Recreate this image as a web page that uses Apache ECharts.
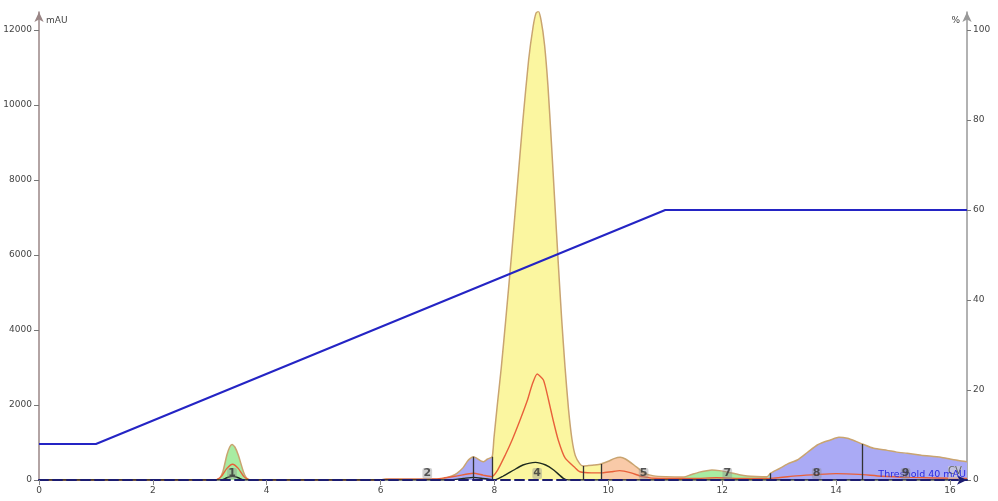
<!DOCTYPE html>
<html><head><meta charset="utf-8">
<script src="https://cdn.jsdelivr.net/npm/echarts@6.0.0/dist/echarts.min.js"></script>
<style>html,body{margin:0;padding:0;background:#fff}#c{width:998px;height:501px}</style>
</head><body><div id="c"></div>
<script>
// ---- data ----
const uvCv  = [0, 3.0, 3.12, 3.17, 3.23, 3.30, 3.35, 3.39, 3.44, 3.50, 3.59, 3.64, 3.70, 3.8,
  6.0, 6.05, 6.5, 6.95, 7.0, 7.11, 7.25, 7.34, 7.45, 7.52, 7.57, 7.63, 7.69, 7.76, 7.81, 7.88, 7.96,
  7.99, 8.05, 8.12, 8.2, 8.3, 8.4, 8.5, 8.6, 8.68, 8.73, 8.77, 8.82, 8.88, 8.94, 9.0, 9.06, 9.12, 9.18,
  9.24, 9.3, 9.36, 9.42, 9.5, 9.56, 9.65, 9.75, 9.87, 10.0, 10.1, 10.21, 10.3, 10.45, 10.56, 10.65, 10.8,
  11.0, 11.32, 11.45, 11.6, 11.73, 11.82, 11.95, 12.14, 12.3, 12.44, 12.6, 12.79, 12.85, 13.0, 13.15,
  13.32, 13.5, 13.67, 13.8, 13.9, 14.05, 14.2, 14.35, 14.46, 14.66, 14.9, 15.05, 15.25, 15.5, 15.84,
  16.0, 16.15, 16.3];
const uvMau = [0, 0, 10, 40, 222, 667, 880, 950, 880, 667, 222, 60, 10, 0,
  0, 20, 22, 20, 22, 40, 110, 178, 330, 489, 570, 620, 578, 510, 489, 560, 622,
  1100, 2000, 3000, 4300, 6000, 7800, 9600, 11200, 12100, 12450, 12500, 12250, 11600, 10500, 9000, 7400, 5800, 4300,
  3000, 1900, 1100, 650, 430, 373, 385, 400, 427, 500, 570, 604, 560, 400, 267, 170, 110,
  90, 80, 140, 210, 249, 267, 250, 196, 140, 107, 95, 89, 180, 300, 430,
  533, 740, 933, 1020, 1067, 1138, 1111, 1030, 960, 844, 790, 750, 711, 660, 604,
  560, 520, 489];

const redCv  = [0, 3.1, 3.2, 3.3, 3.4, 3.5, 3.6, 3.7, 6.0, 6.1, 6.9, 7.1, 7.35, 7.63, 7.8, 7.95, 8.05,
  8.19, 8.31, 8.45, 8.58, 8.66, 8.75, 8.86, 8.95, 9.03, 9.12, 9.24, 9.42, 9.5, 9.7, 9.9, 10.05, 10.2,
  10.4, 10.6, 10.9, 11.5, 11.9, 12.4, 12.9, 13.3, 13.7, 14.0, 14.4, 14.8, 15.3, 16.3];
const redMau = [0, 0, 90, 310, 420, 310, 90, 0, 0, 20, 25, 50, 110, 180, 130, 90, 250,
  667, 1067, 1600, 2133, 2533, 2827, 2667, 2133, 1600, 1067, 587, 320, 220, 190, 190, 220, 250,
  190, 90, 40, 40, 60, 40, 50, 110, 150, 170, 150, 100, 70, 40];

const blkCv  = [0, 3.2, 3.3, 3.4, 3.5, 3.6, 7.2, 7.45, 7.63, 7.8, 7.95, 8.0, 8.15, 8.34, 8.5, 8.72, 8.9, 9.04, 9.21, 9.3, 16.3];
const blkMau = [0, 0, 60, 100, 60, 0, 0, 40, 70, 40, 10, 0, 100, 267, 400, 471, 400, 267, 44, 0, 0];

const gradCv  = [0, 1, 11, 16.3];
const gradPct = [8, 8, 60, 60];

const fracStart = [3.0, 6.0, 6.95, 7.63, 7.96, 9.56, 9.87, 11.32, 12.79, 12.85, 14.46];
const fracEnd   = [3.8, 6.95, 7.63, 7.96, 9.56, 9.87, 11.32, 12.79, 12.85, 14.46, 16.3];
const sepCv     = [7.63, 7.96, 9.56, 9.87, 12.85, 14.46];

const peakNames = ['1', '2', '4', '5', '7', '8', '9'];
const peakCv    = [3.39, 6.82, 8.75, 10.62, 12.09, 13.66, 15.22];

const cvTicks  = [0, 2, 4, 6, 8, 10, 12, 14, 16];
const mauTicks = [0, 2000, 4000, 6000, 8000, 10000, 12000];
const pctTicks = [0, 20, 40, 60, 80, 100];

// ---- styles ----
const fracColors = ['#a8eca2', '#f9caa8', '#aaaaf5', '#aaaaf5', '#fbf6a0', '#fbf6a0', '#f9caa8', '#a8eca2', '#a6e8e4', '#aaaaf5', '#aaaaf5'];
const FONT = 'DejaVu Sans';
const SM = 0.2;

function zip(xs, ys) { return xs.map((x, i) => [x, ys[i]]); }
const uvData = zip(uvCv, uvMau);
function uvAt(x) { return uvMau[uvCv.indexOf(x)]; }
const plain = v => String(v);

const series = [];
fracStart.forEach((s, i) => {
  series.push({
    type: 'line', data: uvData.filter(p => p[0] >= s && p[0] <= fracEnd[i]),
    showSymbol: false, silent: true, z: 1, smooth: SM,
    lineStyle: { opacity: 0 }, areaStyle: { color: fracColors[i], opacity: 1 }
  });
});
series.push({ type: 'line', data: uvData, showSymbol: false, silent: true, z: 3, smooth: SM,
  lineStyle: { color: '#c9a470', width: 1.5 } });
series.push({ type: 'line', data: zip(redCv, redMau), showSymbol: false, silent: true, z: 4, smooth: SM,
  lineStyle: { color: '#e8603a', width: 1.4 } });
series.push({ type: 'line', data: zip(blkCv, blkMau), showSymbol: false, silent: true, z: 4, smooth: SM,
  lineStyle: { color: '#1e2a1e', width: 1.4 } });
series.push({ type: 'lines', coordinateSystem: 'cartesian2d', silent: true, z: 5,
  data: sepCv.map(x => ({ coords: [[x, 0], [x, uvAt(x)]] })),
  lineStyle: { color: '#333', width: 1.3, opacity: 1 } });
series.push({ type: 'line', yAxisIndex: 1, data: zip(gradCv, gradPct), showSymbol: false, silent: true, z: 6,
  lineStyle: { color: '#2424c4', width: 2 } });
series.push({ type: 'scatter', data: peakCv.map(x => [x, 0]), symbolSize: 0, silent: true, z: 10,
  label: { show: true, position: 'top', distance: 1,
    formatter: p => peakNames[p.dataIndex],
    color: '#333', fontFamily: FONT, fontSize: 11, fontWeight: 'bold',
    backgroundColor: 'rgba(140,140,140,0.5)', padding: [0, 1, 0, 1], borderRadius: 2 } });

const option = {
  animation: false,
  grid: { left: 39, right: 31, top: 12, bottom: 21, containLabel: false },
  xAxis: {
    type: 'value', min: 0, max: 16.3, z: 7,
    axisLine: { show: true, symbol: ['none', 'arrow'], symbolSize: [7, 10],
      lineStyle: { color: '#1c1c70', width: 2, type: [9, 5] } },
    axisTick: { show: true, length: 5, customValues: cvTicks, lineStyle: { color: '#888' } },
    axisLabel: { customValues: cvTicks, formatter: plain, color: '#444', fontFamily: FONT, fontSize: 9, margin: 6 },
    splitLine: { show: false },
    name: 'CV', nameLocation: 'end', nameGap: -12,
    nameTextStyle: { color: '#666', fontFamily: FONT, fontSize: 10, align: 'center', verticalAlign: 'bottom',
      padding: [0, 0, 4, 0], backgroundColor: 'rgba(210,210,210,0.6)' }
  },
  yAxis: [{
    type: 'value', min: 0, max: 12480, position: 'left',
    axisLine: { show: true, symbol: ['none', 'arrow'], symbolSize: [7, 10],
      lineStyle: { color: '#9a8686', width: 1.5 } },
    axisTick: { show: true, length: 5, customValues: mauTicks, lineStyle: { color: '#777' } },
    axisLabel: { customValues: mauTicks, formatter: plain, color: '#444', fontFamily: FONT, fontSize: 9, margin: 7 },
    splitLine: { show: false },
    name: 'mAU', nameLocation: 'end', nameGap: -4,
    nameTextStyle: { color: '#444', fontFamily: FONT, fontSize: 9, align: 'left', verticalAlign: 'top', padding: [0, 0, 0, 7] }
  }, {
    type: 'value', min: 0, max: 104, position: 'right',
    axisLine: { show: true, symbol: ['none', 'arrow'], symbolSize: [7, 10],
      lineStyle: { color: '#999', width: 1.5 } },
    axisTick: { show: true, length: 4, customValues: pctTicks, lineStyle: { color: '#777' } },
    axisLabel: { customValues: pctTicks, formatter: plain, color: '#444', fontFamily: FONT, fontSize: 9, margin: 6 },
    splitLine: { show: false },
    name: '%', nameLocation: 'end', nameGap: -4,
    nameTextStyle: { color: '#444', fontFamily: FONT, fontSize: 9, align: 'right', verticalAlign: 'top', padding: [0, 7, 0, 0] }
  }],
  graphic: [{
    type: 'text', right: 32, bottom: 21, z: 8,
    style: { text: 'Threshold 40 mAU', fill: '#2b2be0', font: '9.5px "DejaVu Sans"' }
  }],
  series: series
};
const chart = echarts.init(document.getElementById('c'));
chart.setOption(option);
</script>
</body></html>
